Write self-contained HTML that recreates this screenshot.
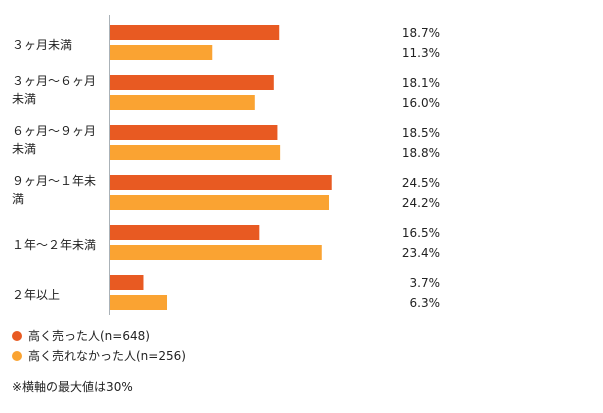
<!DOCTYPE html>
<html><head><meta charset="utf-8"><style>
body{margin:0;background:#fff;width:603px;height:409px;overflow:hidden;font-family:"DejaVu Sans","Noto Sans CJK JP",sans-serif;}
text{font-family:"DejaVu Sans","Noto Sans CJK JP",sans-serif;font-size:12px;fill:#222;}
</style></head><body>
<svg id="chart" width="603" height="409" xmlns="http://www.w3.org/2000/svg"></svg>
<script>
const categories=[["３ヶ月未満"],["３ヶ月～６ヶ月","未満"],["６ヶ月～９ヶ月","未満"],["９ヶ月～１年未","満"],["１年～２年未満"],["２年以上"]];
const soldHigh=[18.7,18.1,18.5,24.5,16.5,3.7];
const soldLow=[11.3,16.0,18.8,24.2,23.4,6.3];
const seriesNames=["高く売った人(n=648)","高く売れなかった人(n=256)"];
const xMax=30;
const svg=document.getElementById('chart');
const NS='http://www.w3.org/2000/svg';
const x0=109.5, xW=271.5;
function xs(v){return v/xMax*xW;}
function gy(i){return 25+i*50;}
function mk(tag,attrs){const e=document.createElementNS(NS,tag);for(const k in attrs)e.setAttribute(k,attrs[k]);svg.appendChild(e);return e;}
const colors=["#e85a22","#faa332"];
const axis=mk('line',{x1:x0,y1:15,x2:x0,y2:315,stroke:'#aab2b8','stroke-width':1});


categories.forEach((lines,i)=>{
  const y=gy(i);
  const t=mk('text',{x:12,y:lines.length>1?y+10:y+24});
  
  
  lines.forEach((l,j)=>{const ts=document.createElementNS(NS,'tspan');ts.setAttribute('x',12);if(j>0)ts.setAttribute('dy',18);ts.textContent=l;t.appendChild(ts);});
  [soldHigh,soldLow].forEach((arr,s)=>{
    const by=y+s*20;
    const r=mk('rect',{x:x0+0.5,y:by,width:xs(arr[i]),height:15,fill:colors[s]});
    
    
    const v=mk('text',{x:440,y:by+12,'text-anchor':'end'});
    v.textContent=arr[i].toFixed(1)+'%';
    
    
  });
});
seriesNames.forEach((n,s)=>{
  const cy=336+s*20;
  const c=mk('circle',{cx:17,cy:cy,r:5,fill:colors[s]});
  
  
  const t=mk('text',{x:28,y:cy+4});
  t.textContent=n;
  
  
});
const f=mk('text',{x:12,y:391});
f.textContent='※横軸の最大値は30%';


</script>
</body></html>
